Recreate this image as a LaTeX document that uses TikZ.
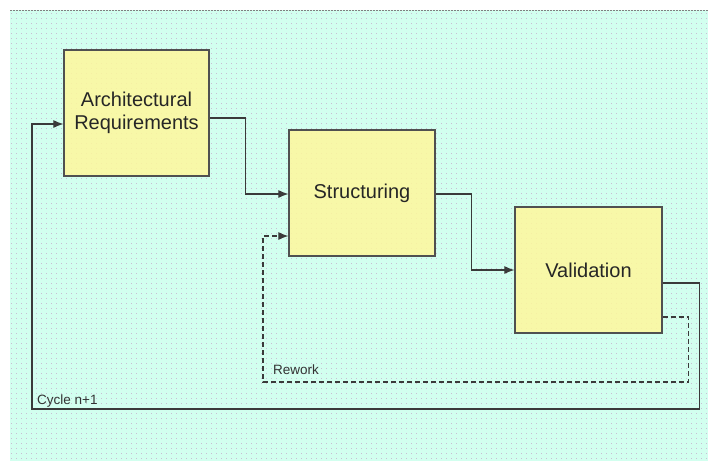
\documentclass[tikz,border=0pt]{standalone}
\usepackage{fontspec}
\setmainfont{Liberation Sans}
\usetikzlibrary{arrows.meta,calc}
\definecolor{sheet}{HTML}{D2FFEF}
\definecolor{griddot}{HTML}{C8BED4}
\definecolor{boxfill}{HTML}{FFF79C}
\definecolor{edge}{HTML}{505050}
\definecolor{wire}{HTML}{3A3A3A}
\tikzset{
  stage/.style={draw=edge, line width=1.2pt, fill=boxfill, fill opacity=0.85, text opacity=1,
    minimum height=126pt, align=center, inner sep=0pt,
    font=\fontsize{20}{23}\selectfont, text=black!85},
  flow/.style={draw=wire, line width=1.1pt, -{Latex[length=10pt,width=8pt]}},
  back/.style={flow, dash pattern=on 5pt off 3pt},
  tag/.style={anchor=base west, inner sep=0pt, font=\fontsize{13.5}{15}\selectfont, text=black!80}
}
\begin{document}
\begin{tikzpicture}[x=1pt,y=-1pt]
\useasboundingbox (0,0) rectangle (708,461);
% dotted drawing sheet
\fill[white] (0,0) rectangle (708,461);
\fill[sheet] (10,10) rectangle (708,461);
\foreach \yy in {13,18,...,460}
  \draw[griddot, line width=1pt, dash pattern=on 1pt off 4pt] (11,\yy) -- (708,\yy);
\draw[gray, line width=1pt, dash pattern=on 1.5pt off 1.5pt] (10,10.5) -- (708,10.5);

% process stages
\node[stage, minimum width=145pt] (ar) at (136.5,113) {Architectural\\Requirements};
\node[stage, minimum width=146pt] (st) at (362,193) {Structuring};
\node[stage, minimum width=147pt] (va) at (588.5,270) {Validation};

% forward flow
\draw[flow] ([yshift=-5pt]ar.east) -- ++(36,0) |- ([yshift=-1pt]st.west);
\draw[flow] ([yshift=-1pt]st.east) -- ++(36,0) |- (va.west);

% rework loop back into structuring
\coordinate (rw1) at ($(va.east)+(26,47)$);
\coordinate (rw2) at (263,382);
\draw[back] ([yshift=-47pt]va.east) -- (rw1) |- (rw2) |- ([yshift=-43pt]st.west);
\node[tag] (rwl) at (273,374) {Rework};

% next cycle back into the requirements
\coordinate (cy1) at ($(va.east)+(37,13)$);
\coordinate (cy2) at (32,409);
\draw[flow] ([yshift=-13pt]va.east) -- (cy1) |- (cy2) |- ([yshift=-11pt]ar.west);
\node[tag] (cyl) at (37,404) {Cycle n+1};
\end{tikzpicture}
\end{document}
